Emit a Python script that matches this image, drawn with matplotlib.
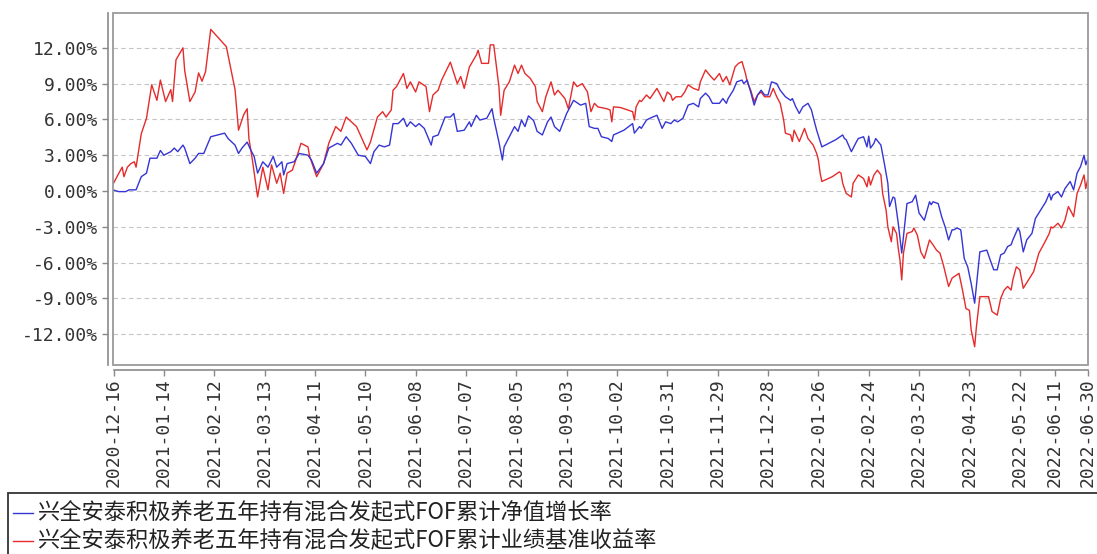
import numpy as np
import pandas as pd
import matplotlib
matplotlib.use("Agg")
import matplotlib.pyplot as plt
from matplotlib.lines import Line2D
from matplotlib.patches import Rectangle
from matplotlib.ticker import FuncFormatter, FixedFormatter, FixedLocator
import matplotlib.dates as mdates

START = pd.Timestamp("2020-12-16")
END = pd.Timestamp("2022-06-30")

# fund cumulative NAV growth (%), x = days since 2020-12-16
nav_days = [0, 3, 7, 9, 13, 16, 19, 21, 25, 27, 29, 33, 35, 37, 40, 41, 44, 47, 49, 52,
            56, 64, 66, 70, 72, 74, 77, 79, 81, 83, 86, 89, 92, 94, 97, 98, 100, 104, 107, 112,
            114, 117, 121, 124, 129, 131, 134, 137, 141, 145, 148, 150, 153, 156, 159, 161, 164, 167, 169, 171,
            174, 176, 179, 183, 184, 187, 191, 194, 196, 198, 202, 205, 206, 209, 211, 215, 218, 219, 222, 224,
            225, 228, 231, 233, 235, 237, 239, 242, 244, 247, 250, 252, 254, 257, 261, 265, 269, 272, 274, 277,
            279, 281, 285, 287, 288, 294, 299, 300, 303, 304, 307, 309, 313, 316, 318, 321, 323, 325, 328, 331,
            334, 337, 338, 341, 343, 345, 349, 351, 353, 354, 357, 359, 362, 363, 365, 367, 369, 371, 373, 375,
            377, 379, 382, 384, 387, 390, 391, 393, 395, 397, 400, 402, 403, 405, 408, 412, 416, 420, 421, 422,
            425, 428, 429, 432, 434, 435, 436, 438, 439, 442, 444, 446, 447, 449, 450, 452, 454, 456, 457, 460,
            462, 464, 467, 470, 471, 472, 475, 477, 479, 481, 483, 484, 486, 488, 490, 492, 494, 496, 499, 503,
            505, 507, 509, 511, 513, 515, 517, 518, 521, 522, 524, 526, 529, 531, 534, 537, 539, 540, 541, 544,
            546, 548, 551, 553, 555, 557, 559, 560, 561]
nav_vals = [0.08, -0.05, -0.05, 0.1, 0.1, 1.2, 1.5, 2.75, 2.75, 3.4, 3.0, 3.3, 3.6, 3.3, 3.85, 3.6, 2.3, 2.75, 3.15, 3.15,
            4.55, 4.85, 4.4, 3.85, 3.15, 3.6, 4.1, 3.45, 2.9, 1.5, 2.45, 2.0, 2.9, 2.0, 2.45, 1.35, 2.3, 2.45, 3.15, 3.0,
            2.6, 1.5, 2.3, 3.6, 4.0, 3.85, 4.55, 4.0, 3.0, 2.9, 2.3, 3.3, 3.85, 3.7, 3.85, 5.65, 5.65, 6.1, 5.4, 5.8,
            5.4, 5.65, 5.25, 3.85, 4.55, 4.7, 6.2, 6.2, 6.5, 5.0, 5.1, 5.8, 5.4, 6.35, 5.95, 6.1, 6.9, 6.1, 4.1, 2.6,
            3.7, 4.55, 5.4, 5.0, 5.95, 5.4, 6.3, 5.9, 5.0, 4.7, 5.8, 6.2, 5.4, 5.0, 6.5, 7.6, 7.2, 7.35, 5.4, 5.25,
            5.25, 4.55, 4.4, 4.15, 4.7, 5.1, 5.65, 4.85, 5.4, 5.25, 5.95, 6.1, 6.35, 5.25, 5.8, 5.65, 5.95, 5.8, 6.1, 7.2,
            7.35, 7.05, 7.75, 8.2, 7.9, 7.35, 7.35, 7.75, 7.35, 7.75, 8.45, 9.15, 9.3, 9.0, 9.3, 8.3, 7.2, 8.05, 8.45, 8.05,
            8.05, 9.15, 9.0, 8.45, 7.9, 7.6, 7.75, 7.05, 6.5, 7.05, 7.35, 6.8, 6.2, 5.1, 3.7, 4.0, 4.3, 4.7, 4.4, 4.3,
            3.3, 4.15, 4.4, 4.55, 3.7, 4.6, 3.6, 4.0, 4.4, 3.85, 2.3, 0.65, -1.3, -0.5, -0.6, -2.7, -5.2, -2.45, -1.05, -0.9,
            -0.35, -1.85, -2.45, -0.9, -1.15, -0.9, -1.05, -2.15, -3.0, -4.1, -3.25, -3.25, -3.1, -3.25, -5.65, -6.35, -7.75, -9.4, -5.1, -4.95,
            -5.8, -6.6, -6.6, -5.35, -5.2, -4.65, -4.5, -4.1, -3.1, -3.4, -5.1, -4.1, -3.55, -2.3, -1.6, -0.9, -0.2, -0.75, -0.35, -0.05,
            -0.5, 0.2, 0.8, 0.1, 1.5, 2.05, 3.0, 2.2, 2.6]

# benchmark cumulative return (%)
bm_days = [0, 2, 5, 6, 8, 10, 12, 13, 16, 19, 22, 25, 27, 30, 33, 34, 36, 40, 41, 44,
           47, 49, 51, 53, 56, 65, 70, 72, 75, 77, 78, 80, 83, 86, 89, 91, 94, 96, 98, 100,
           103, 105, 108, 112, 113, 117, 121, 124, 128, 131, 134, 140, 146, 148, 152, 155, 157, 160, 161, 163,
           167, 169, 171, 174, 176, 180, 182, 184, 187, 189, 194, 198, 200, 202, 205, 209, 210, 212, 216, 217,
           219, 222, 223, 225, 228, 231, 233, 235, 237, 240, 243, 244, 247, 249, 252, 254, 256, 260, 262, 265,
           267, 270, 273, 275, 277, 279, 284, 286, 287, 288, 292, 299, 300, 301, 303, 304, 307, 309, 313, 315,
           317, 319, 321, 322, 324, 327, 329, 331, 334, 337, 338, 341, 344, 346, 349, 351, 353, 355, 358, 360,
           362, 364, 365, 367, 369, 371, 373, 375, 378, 380, 382, 384, 386, 387, 390, 391, 392, 395, 398, 400,
           403, 405, 406, 407, 408, 414, 418, 419, 420, 422, 425, 426, 429, 432, 434, 435, 436, 438, 440, 442,
           443, 445, 446, 448, 449, 451, 452, 453, 454, 455, 457, 460, 461, 463, 465, 467, 470, 472, 474, 476,
           478, 481, 483, 484, 487, 489, 491, 493, 494, 496, 497, 499, 504, 506, 509, 511, 513, 515, 517, 518,
           520, 522, 524, 527, 530, 533, 536, 539, 540, 541, 544, 546, 548, 550, 552, 553, 555, 557, 559, 560,
           561]
bm_vals = [0.65, 1.2, 2.0, 1.2, 2.0, 2.3, 2.45, 2.0, 4.8, 6.1, 8.9, 7.6, 9.3, 7.5, 8.5, 7.5, 11.0, 12.0, 10.1, 7.5,
           8.3, 9.9, 9.2, 10.0, 13.55, 12.1, 8.5, 5.1, 6.4, 6.9, 4.4, 2.6, -0.5, 2.0, 0.1, 2.2, 0.65, 1.5, -0.2, 1.5,
           1.75, 2.6, 4.0, 3.7, 2.9, 1.2, 2.3, 4.0, 5.4, 5.0, 6.2, 5.4, 3.45, 4.1, 6.2, 6.65, 6.2, 6.8, 8.45, 8.75,
           9.85, 8.6, 9.15, 8.3, 9.15, 8.75, 6.65, 8.05, 8.45, 9.3, 10.8, 9.0, 9.6, 8.6, 10.4, 11.4, 11.8, 10.7, 10.7, 12.25,
           12.25, 8.75, 6.35, 8.45, 9.15, 10.55, 9.85, 10.55, 9.85, 9.45, 8.75, 7.5, 6.65, 7.9, 9.15, 8.05, 8.45, 7.75, 6.9, 9.15,
           8.75, 9.0, 8.3, 6.65, 7.35, 7.05, 6.9, 6.8, 5.8, 7.05, 7.0, 6.65, 5.95, 7.05, 7.6, 7.5, 8.05, 7.75, 8.6, 8.05,
           7.5, 8.3, 8.05, 7.6, 7.9, 7.9, 8.3, 8.9, 8.6, 8.45, 9.15, 10.15, 9.6, 9.3, 9.85, 9.15, 9.6, 8.9, 10.4, 10.7,
           10.85, 9.85, 9.15, 8.45, 7.5, 8.05, 8.3, 7.9, 7.9, 8.6, 7.9, 7.35, 5.95, 4.85, 4.7, 4.15, 5.1, 4.15, 5.25, 4.4,
           3.85, 3.15, 2.6, 1.5, 0.8, 1.2, 1.6, 1.5, 0.65, -0.2, -0.5, 0.65, 1.35, 1.05, 0.35, 1.2, 0.5, 1.35, 1.75, 1.35,
           -0.2, -1.6, -3.0, -4.25, -3.0, -3.55, -4.8, -5.8, -7.45, -5.2, -3.55, -3.4, -3.1, -3.7, -5.1, -5.65, -4.1, -4.5, -4.95, -5.2,
           -6.2, -8.0, -7.3, -7.2, -6.9, -8.3, -9.85, -10.0, -11.65, -13.05, -11.4, -8.85, -8.85, -10.1, -10.4, -9.0, -8.3, -8.0, -8.3, -7.45,
           -6.35, -6.6, -8.15, -7.45, -6.75, -5.2, -4.4, -3.55, -3.0, -3.1, -2.7, -3.1, -2.45, -1.3, -1.85, -2.15, -0.2, 0.5, 1.35, 0.2,
           0.9]

series_labels = ["兴全安泰积极养老五年持有混合发起式FOF累计净值增长率",
                 "兴全安泰积极养老五年持有混合发起式FOF累计业绩基准收益率"]
series_colors = ["#3535d5", "#e52b2b"]

x_tick_labels = ["2020-12-16", "2021-01-14", "2021-02-12", "2021-03-13", "2021-04-11",
                 "2021-05-10", "2021-06-08", "2021-07-07", "2021-08-05", "2021-09-03",
                 "2021-10-02", "2021-10-31", "2021-11-29", "2021-12-28", "2022-01-26",
                 "2022-02-24", "2022-03-25", "2022-04-23", "2022-05-22", "2022-06-11",
                 "2022-06-30"]
y_ticks = [-12, -9, -6, -3, 0, 3, 6, 9, 12]

W, H = 1097, 554
fig = plt.figure(figsize=(W / 100, H / 100), dpi=100)
ax = fig.add_axes([113.5 / W, 1 - 365 / H, (1087.5 - 113.5) / W, (365 - 13) / H])

nav_dates = (START + pd.to_timedelta(nav_days, unit="D")).to_pydatetime()
bm_dates = (START + pd.to_timedelta(bm_days, unit="D")).to_pydatetime()
ax.plot(nav_dates, nav_vals, color=series_colors[0], lw=1.0, zorder=3)
ax.plot(bm_dates, bm_vals, color=series_colors[1], lw=1.0, zorder=2)

ax.set_xlim(START.to_pydatetime(), END.to_pydatetime())
ax.set_ylim(-14.58, 14.92)

ax.yaxis.set_major_locator(FixedLocator(y_ticks))
ax.yaxis.set_major_formatter(FuncFormatter(lambda v, p: f"{v:.2f}%"))
tick_pos = mdates.date2num(pd.to_datetime(x_tick_labels).to_pydatetime())
ax.xaxis.set_major_locator(FixedLocator(tick_pos))
ax.xaxis.set_major_formatter(FixedFormatter(x_tick_labels))

ax.tick_params(axis="both", length=4, width=1, color="#888888",
               labelsize=13, labelcolor="#333333", labelfontfamily="DejaVu Sans Mono")
ax.tick_params(axis="y", pad=3)
ax.tick_params(axis="x", pad=2, labelrotation=90)

ax.grid(axis="y", color="#c4c4c4", linestyle=(0, (4, 3)), lw=0.8)
ax.set_axisbelow(True)

for side in ["top", "right"]:
    ax.spines[side].set_visible(False)
ax.spines["left"].set_position(("outward", 4))
ax.spines["bottom"].set_position(("outward", 3.6))
for side in ["left", "bottom"]:
    ax.spines[side].set_color("#8a8a8a")
    ax.spines[side].set_linewidth(1.2)

# plot frame
ax.add_patch(Rectangle((0, 0), 1, 1, transform=ax.transAxes, fill=False,
                       edgecolor="#9a9a9a", lw=1.3, clip_on=False, zorder=4))

# legend box at the bottom, running past the figure edges
fig.patches.append(Rectangle((8 / W, -0.05), 1.2, 1 - 493 / H + 0.05,
                             transform=fig.transFigure, fill=False,
                             edgecolor="#333333", lw=1.3))
legend_rows_y = [513, 541]
for label, color, yp in zip(series_labels, series_colors, legend_rows_y):
    yf = 1 - yp / H
    fig.lines.append(Line2D([13 / W, 33 / W], [yf, yf], transform=fig.transFigure,
                            color=color, lw=1.0))
    fig.text(37 / W, yf, label, ha="left", va="center", fontsize=16,
             family=["Noto Sans CJK SC", "DejaVu Sans"], color="#222222")

fig.savefig("out.png", dpi=100)
